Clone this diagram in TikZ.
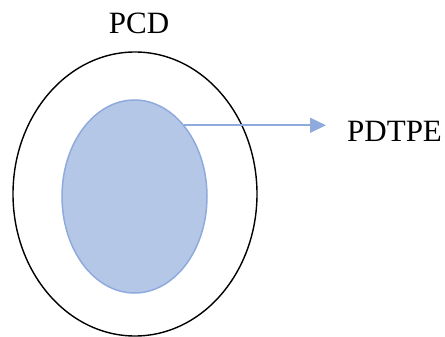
\documentclass[tikz,border=0pt]{standalone}
\usepackage{fontspec}
\setmainfont{Liberation Serif}
\usepackage{xcolor}
\usepackage{tikz}
\usetikzlibrary{arrows.meta,positioning,shapes.geometric}
\definecolor{setfill}{HTML}{B4C7E7}
\definecolor{setline}{HTML}{8FAADC}
\tikzset{
  outerset/.style={ellipse,draw=black,line width=1.4pt,inner sep=0pt,
    minimum width=244pt,minimum height=284pt},
  innerset/.style={ellipse,draw=setline,fill=setfill,line width=1.5pt,inner sep=0pt,
    minimum width=145pt,minimum height=193pt},
  lbl/.style={inner sep=0pt,font=\fontsize{31}{36}\selectfont},
  arr/.style={-{Triangle[length=16pt,width=15pt]},line width=1.6pt,draw=setline}
}

\begin{document}
\begin{tikzpicture}[x=1pt,y=1pt]
 \useasboundingbox (0,0) rectangle (445,-337);
 \node[outerset] (pcdset) at (135,-194) {};
 \node[innerset] (pdtpeset) at (134.5,-196.5) {};
 \node[lbl] (pcd) at (139,-23.5) {PCD};
 \node[lbl,anchor=west] (pdtpe) at (347,-131) {PDTPE};
 \draw[arr,shorten >=21pt] (pdtpeset.55.7)--(pdtpeset.55.7 -| pdtpe.west);
\end{tikzpicture}
\end{document}
